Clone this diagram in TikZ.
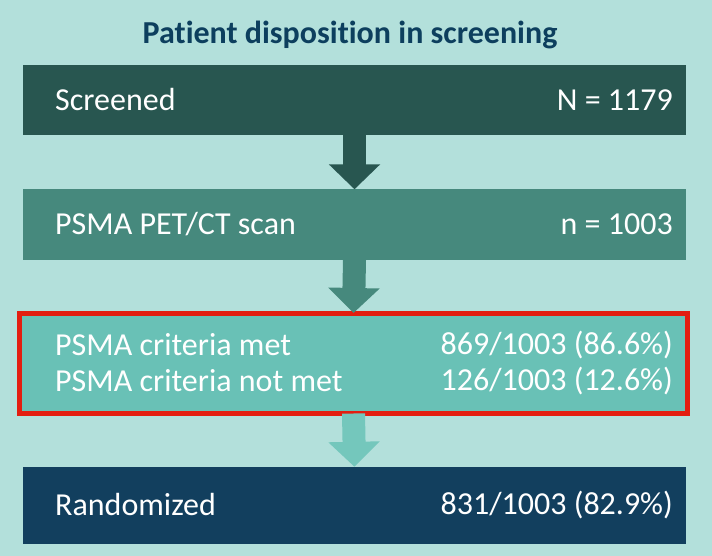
\documentclass[tikz,border=0pt]{standalone}
\usepackage{fontspec}
\setmainfont{Carlito}[Ligatures=NoCommon]
\usepackage{xcolor}
\usetikzlibrary{arrows.meta,positioning}
\definecolor{bgc}{HTML}{B3E0DB}
\definecolor{titlec}{HTML}{0D3F5E}
\definecolor{screenc}{HTML}{285650}
\definecolor{scanc}{HTML}{46897D}
\definecolor{critc}{HTML}{69C1B6}
\definecolor{critar}{HTML}{74C7BC}
\definecolor{randc}{HTML}{123F5E}
\definecolor{redc}{HTML}{E31E10}
\tikzset{
  stage/.style={rectangle,minimum width=663pt,minimum height=70pt,inner sep=0pt},
  lab/.style={text=white,font=\fontsize{32}{35}\selectfont,inner sep=0pt},
  flow/.style={line width=23pt,-{Triangle[length=25pt,width=50pt]}}
}
\begin{document}
\begin{tikzpicture}[x=1pt,y=-1pt]
\useasboundingbox (0,0) rectangle (712,556);
\fill[bgc] (0,0) rectangle (712,556);
\node[font=\fontsize{32}{35}\selectfont\bfseries,text=titlec] (title) at (350,35) {Patient disposition in screening};
% stages
\node[stage,fill=screenc] (screen) at (354.5,100) {};
\node[stage,fill=scanc] (scan) at (354.5,224.5) {};
\node[stage,fill=critc,draw=redc,line width=5pt,minimum width=668pt,minimum height=100pt] (crit) at (353.5,363.5) {};
\node[stage,fill=randc,minimum height=77pt] (rand) at (354.5,505.5) {};
% labels
\node[lab,anchor=west] (screenl) at (55,100) {Screened};
\node[lab,anchor=east] (screenn) at (673,100) {N = 1179};
\node[lab,anchor=west] (scanl) at (55,224) {PSMA PET/CT scan};
\node[lab,anchor=east] (scann) at (673,224) {n = 1003};
\node[lab,anchor=west] (metl) at (55,345) {PSMA criteria met};
\node[lab,anchor=east] (metn) at (673,345) {869/1003 (86.6\%)};
\node[lab,anchor=west] (notl) at (55,381) {PSMA criteria not met};
\node[lab,anchor=east] (notn) at (673,381) {126/1003 (12.6\%)};
\node[lab,anchor=west] (randl) at (55,505) {Randomized};
\node[lab,anchor=east] (randn) at (673,505) {831/1003 (82.9\%)};
% arrows
\draw[flow,screenc] (screen.south) -- (scan.north);
\draw[flow,scanc] (scan.south) -- ([yshift=-2pt]crit.north);
\draw[flow,critar] ([yshift=2.5pt]crit.south) -- (rand.north);
\end{tikzpicture}
\end{document}
